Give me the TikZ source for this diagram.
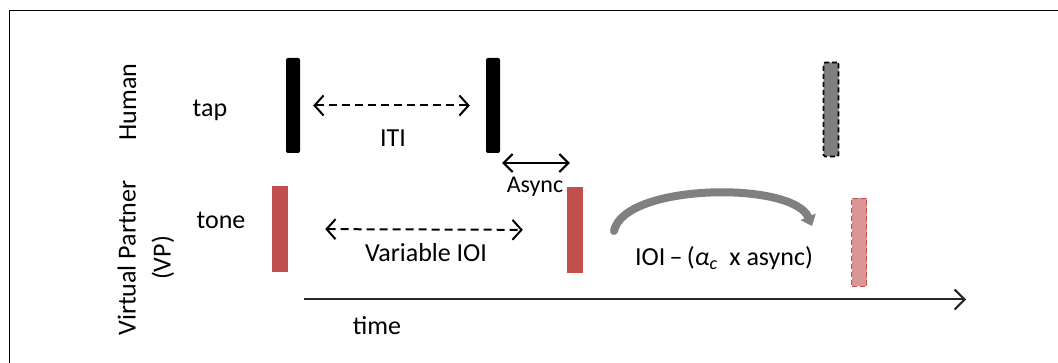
\documentclass[tikz,border=0pt]{standalone}
\usepackage{fontspec}
\setmainfont{Carlito}
\usetikzlibrary{arrows.meta}
\definecolor{vpred}{HTML}{C0504D}
\definecolor{vppink}{HTML}{D99694}
\definecolor{tapgray}{HTML}{7F7F7F}
\definecolor{curvegray}{HTML}{808080}
\begin{document}
\begin{tikzpicture}[x=1pt,y=-1pt,
  every node/.style={font=\fontsize{26}{31}\selectfont, inner sep=0pt},
  tapbar/.style={fill=black, rounded corners=2pt, minimum width=14pt, minimum height=95pt},
  ghosttap/.style={fill=tapgray, draw=black, dashed, dash pattern=on 5pt off 3pt, line width=1.6pt, rounded corners=1.5pt, minimum width=15pt, minimum height=94pt},
  tonebar/.style={fill=vpred, minimum width=16pt, minimum height=86pt},
  ghosttone/.style={fill=vppink, draw=vpred, dash pattern=on 5pt off 3pt, line width=1.4pt, minimum width=15pt, minimum height=88pt},
  tip/.style={Straight Barb[length=9pt,width=20pt,line width=2pt]},
  dasharrow/.style={line width=2pt, dash pattern=on 8pt off 5pt, {Straight Barb[length=9pt,width=20pt]}-{Straight Barb[length=9pt,width=20pt]}},
  solidarrow/.style={line width=2pt, {Straight Barb[length=9pt,width=18pt]}-{Straight Barb[length=9pt,width=18pt]}},
  axis/.style={line width=2pt, draw=black!85, -{Straight Barb[length=10pt,width=20pt]}},
  feedback/.style={line width=8pt, draw=curvegray, line cap=round, -{Triangle[length=10pt,width=16pt]}}
]
\useasboundingbox (0,0) rectangle (1058,363);

% frame (left and top edges)
\draw[line width=1.5pt] (9.5,363) -- (9.5,10.5) -- (1058,10.5);

% row titles
\node[rotate=90] (human) at (128,102) {Human};
\node[rotate=90, align=center, font=\fontsize{26}{35}\selectfont] (vp) at (146,258) {Virtual Partner\\(VP)};
\node (tap) at (210,110) {tap};
\node (tone) at (221,220) {tone};

% human taps
\node[tapbar] (h1) at (293,105.5) {};
\node[tapbar] (h2) at (493,105.5) {};
\node[ghosttap] (h3) at (831,109.5) {};

% partner tones
\node[tonebar] (t1) at (280,229) {};
\node[tonebar] (t2) at (575,230) {};
\node[ghosttone] (t3) at (859,242.5) {};

% inter-tap interval
\draw[dasharrow, shorten <=13pt, shorten >=16pt] (h1.east) -- (h2.west);
\node (iti) at (393,138) {ITI};

% asynchrony
\coordinate (asyncrow) at (0,163);
\draw[solidarrow, shorten <=2pt, shorten >=-3pt] (h2.east |- asyncrow) -- (t2.west |- asyncrow);
\node[font=\fontsize{24}{29}\selectfont] (async) at (535,187) {Async};

% variable inter-onset interval
\draw[dasharrow, shorten <=37pt, shorten >=44pt] (t1.east) -- (t2.west);
\node (ioi) at (426,253) {Variable IOI};

% phase correction
\coordinate (fbstart) at (614,231);
\coordinate (fbend) at (812,226);
\draw[feedback] (fbstart) .. controls (624,183) and (793,181) .. (fbend);
\node (corr) at (724,258) {IOI\,–\,({\itshape α\textsubscript{c}}\ \ x async)};

% time axis
\coordinate (t0) at (304,299.5);
\coordinate (tend) at (966,299.5);
\draw[axis] (t0) -- (tend);
\node (time) at (377,326) {time};
\end{tikzpicture}
\end{document}
